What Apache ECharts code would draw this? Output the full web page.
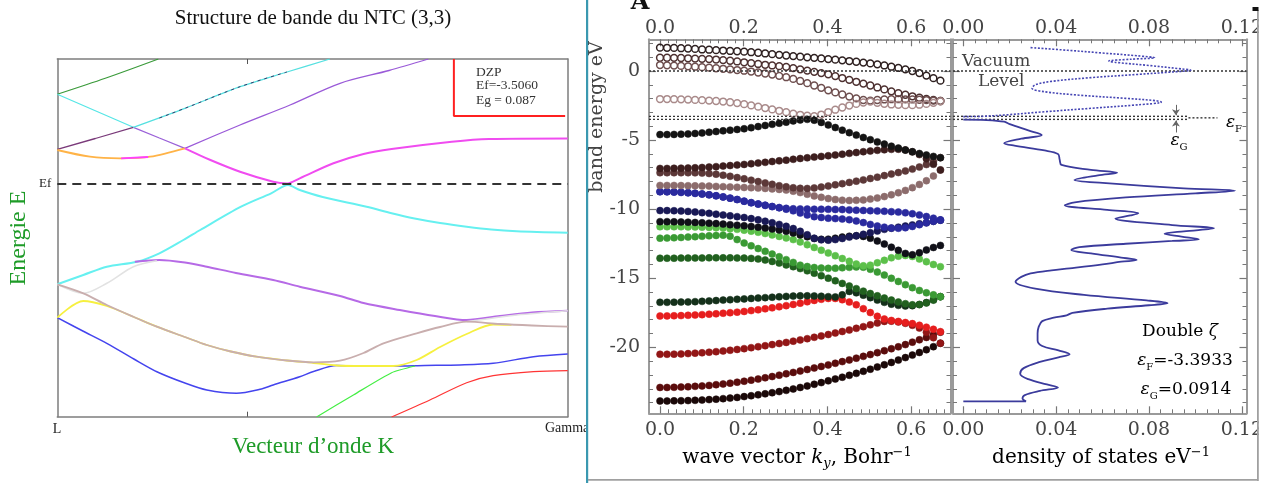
<!DOCTYPE html>
<html><head><meta charset="utf-8">
<script src="https://cdn.jsdelivr.net/npm/echarts@6/dist/echarts.min.js"></script>
<style>html,body{margin:0;padding:0;background:#fff}#c{width:1266px;height:483px}</style>
</head><body><div id="c"></div>
<script>
// ---------- LEFT PANEL (k from L=0 to Gamma=1, energy relative to Ef) ----------
const L_GREEN_TOP = [[0,8.97],[0.094,10.57],[0.198,12.5]];
const L_CYAN_A = [[0,8.97],[0.0745,7.32],[0.149,5.67]];
const L_PURPLE_A = [[0.149,5.67],[0.2,4.6],[0.25,3.57]];
const L_MAGENTA = [[0.25,3.57],[0.3,2.4],[0.358,1.23],[0.423,0.23],[0.449,0.05],[0.475,0.57],[0.541,2.07],[0.6,3.0],[0.655,3.5],[0.773,4.23],[0.846,4.5],[1,4.55]];
const L_DARKPURPLE_B = [[0,3.47],[0.0745,4.55],[0.149,5.67]];
const L_CYAN_B = [[0.149,5.67],[0.25,7.57],[0.358,9.73],[0.45,11.2],[0.534,12.5]];
const L_DARK_STREAK = [[0.2,6.6],[0.25,7.57],[0.358,9.73],[0.45,11.2]];
const L_ORANGE = [[0,3.4],[0.064,2.73],[0.123,2.57],[0.182,2.73],[0.25,3.57]];
const L_MAG_SHORT = [[0.125,2.57],[0.178,2.7]];
const L_PURPLE_C = [[0.25,3.57],[0.358,5.9],[0.456,7.9],[0.554,10.07],[0.65,11.35],[0.727,12.5]];
const L_CYAN_D = [[0,-10.03],[0.051,-9.1],[0.097,-8.27],[0.156,-7.77],[0.2,-6.93],[0.247,-5.6],[0.28,-4.6],[0.36,-2.27],[0.419,-0.93],[0.452,-0.1],[0.475,-0.6],[0.52,-1.3],[0.606,-2.27],[0.655,-2.93],[0.7,-3.45],[0.75,-3.9],[0.802,-4.27],[0.85,-4.55],[0.9,-4.72],[1,-4.87]];
const L_LAVENDER = [[0.152,-7.77],[0.2,-7.6],[0.25,-7.85],[0.293,-8.27],[0.35,-8.9],[0.423,-9.6],[0.475,-10.27],[0.554,-11.2],[0.6,-11.9],[0.671,-12.6],[0.74,-13.2],[0.802,-13.6],[0.867,-13.2],[0.93,-12.85],[1,-12.67]];
const L_LIGHTGRAY = [[0,-10.03],[0.051,-10.93],[0.097,-9.93],[0.149,-8.27],[0.195,-7.67]];
const L_LIGHTGRAY_G = [[0.802,-13.77],[0.9,-13.1],[1,-12.67]];
const L_YELLOW = [[0,-13.37],[0.051,-11.7],[0.097,-12.2],[0.15,-13.3],[0.195,-14.27],[0.25,-15.3],[0.293,-16.1],[0.34,-16.75],[0.39,-17.27],[0.45,-17.65],[0.502,-17.9],[0.547,-18.15],[0.6,-18.2],[0.658,-18.2],[0.704,-17.6],[0.75,-16.3],[0.802,-15.0],[0.854,-14.05],[0.89,-14.08]];
const L_BROWN = [[0,-10.03],[0.051,-10.93],[0.097,-12.1],[0.15,-13.3],[0.195,-14.27],[0.25,-15.3],[0.293,-16.1],[0.34,-16.75],[0.39,-17.27],[0.45,-17.65],[0.502,-17.83],[0.554,-17.67],[0.6,-16.9],[0.639,-15.93],[0.704,-14.93],[0.75,-14.3],[0.802,-13.77],[0.867,-14.0],[0.93,-14.15],[1,-14.27]];
const L_BLUE = [[0,-13.37],[0.05,-14.7],[0.097,-15.93],[0.15,-17.5],[0.195,-18.77],[0.25,-19.9],[0.293,-20.6],[0.351,-20.93],[0.4,-20.5],[0.423,-20.1],[0.475,-19.27],[0.502,-18.75],[0.547,-18.15],[0.6,-18.2],[0.658,-18.2],[0.72,-18.15],[0.789,-18.1],[0.854,-17.93],[0.933,-17.27],[1,-17.0]];
const L_GREEN_LOW = [[0.508,-23.3],[0.581,-21.07],[0.655,-18.87],[0.701,-18.2]];
const L_RED = [[0.655,-23.3],[0.73,-21.6],[0.802,-19.87],[0.854,-19.17],[0.933,-18.77],[1,-18.67]];
const L_EF = [[0,0],[1,0]];
const L_BOX = [[0.777,12.5],[0.777,6.8],[0.995,6.8]];
const L_TICKS = [0.373];

// ---------- BAND PANEL (wave vector k_y, Bohr^-1 ; energy eV) ----------
const K = [0,0.0168,0.0335,0.0503,0.067,0.0838,0.1005,0.1173,0.134,0.1508,0.1675,0.1843,0.201,0.2178,0.2345,0.2513,0.268,0.2848,0.3015,0.3183,0.335,0.3518,0.3685,0.3853,0.402,0.4188,0.4355,0.4523,0.469,0.4858,0.5025,0.5193,0.536,0.5528,0.5695,0.5863,0.603,0.6198,0.6365,0.6533,0.67];
const H1 = [1.69,1.68,1.67,1.65,1.63,1.60,1.56,1.54,1.51,1.48,1.45,1.43,1.40,1.36,1.32,1.27,1.22,1.17,1.12,1.08,1.04,0.99,0.95,0.91,0.86,0.82,0.77,0.72,0.67,0.61,0.55,0.48,0.40,0.31,0.22,0.12,0.0,-0.15,-0.33,-0.52,-0.70];
const H2 = [0.96,0.96,0.95,0.94,0.92,0.90,0.88,0.86,0.83,0.79,0.74,0.69,0.63,0.57,0.51,0.45,0.40,0.35,0.30,0.21,0.12,0.03,-0.06,-0.15,-0.24,-0.37,-0.51,-0.64,-0.78,-0.91,-1.05,-1.19,-1.33,-1.47,-1.60,-1.72,-1.83,-1.93,-2.02,-2.10,-2.17];
const H3 = [0.43,0.41,0.39,0.37,0.34,0.31,0.28,0.24,0.20,0.16,0.12,0.07,0.02,-0.04,-0.11,-0.18,-0.26,-0.35,-0.45,-0.57,-0.72,-0.88,-1.05,-1.22,-1.40,-1.55,-1.70,-1.85,-1.98,-2.10,-2.14,-2.10,-2.06,-2.04,-2.04,-2.05,-2.06,-2.08,-2.11,-2.14,-2.17];
const H4 = [-2.03,-2.03,-2.04,-2.05,-2.07,-2.09,-2.11,-2.14,-2.17,-2.21,-2.26,-2.32,-2.40,-2.49,-2.58,-2.68,-2.78,-2.88,-2.98,-3.08,-3.17,-3.24,-3.27,-3.15,-2.97,-2.80,-2.64,-2.50,-2.38,-2.28,-2.22,-2.30,-2.37,-2.42,-2.45,-2.47,-2.47,-2.44,-2.38,-2.30,-2.20];
const O1 = [-4.60,-4.60,-4.59,-4.57,-4.55,-4.52,-4.48,-4.43,-4.38,-4.33,-4.28,-4.23,-4.18,-4.10,-4.02,-3.94,-3.86,-3.78,-3.70,-3.61,-3.54,-3.50,-3.56,-3.72,-3.90,-4.09,-4.28,-4.46,-4.64,-4.81,-4.97,-5.13,-5.29,-5.44,-5.58,-5.72,-5.85,-5.97,-6.08,-6.18,-6.27];
const O2 = [-7.05,-7.05,-7.04,-7.03,-7.02,-7.00,-6.98,-6.95,-6.92,-6.88,-6.84,-6.80,-6.76,-6.71,-6.66,-6.61,-6.55,-6.50,-6.45,-6.39,-6.33,-6.28,-6.23,-6.18,-6.13,-6.08,-6.02,-5.96,-5.90,-5.84,-5.79,-5.74,-5.70,-5.67,-5.66,-5.72,-5.85,-6.05,-6.35,-6.75,-7.16];
const O3 = [-7.36,-7.36,-7.36,-7.36,-7.36,-7.37,-7.39,-7.42,-7.47,-7.54,-7.62,-7.71,-7.80,-7.90,-8.00,-8.10,-8.20,-8.30,-8.38,-8.45,-8.49,-8.50,-8.46,-8.40,-8.32,-8.24,-8.15,-8.06,-7.97,-7.88,-7.78,-7.68,-7.57,-7.46,-7.35,-7.23,-7.10,-6.95,-6.77,-6.55,-6.27];
const O4 = [-8.28,-8.28,-8.28,-8.29,-8.30,-8.31,-8.32,-8.33,-8.35,-8.37,-8.39,-8.41,-8.43,-8.45,-8.47,-8.50,-8.53,-8.57,-8.62,-8.70,-8.80,-8.92,-9.04,-9.14,-9.23,-9.30,-9.35,-9.37,-9.36,-9.33,-9.27,-9.19,-9.09,-8.96,-8.81,-8.64,-8.44,-8.21,-7.94,-7.60,-7.16];
const BL1 = [-8.73,-8.74,-8.76,-8.78,-8.81,-8.85,-8.90,-8.96,-9.03,-9.11,-9.20,-9.30,-9.42,-9.53,-9.63,-9.72,-9.81,-9.89,-9.94,-9.97,-9.98,-9.99,-10.00,-10.00,-10.01,-10.02,-10.03,-10.05,-10.07,-10.09,-10.11,-10.13,-10.15,-10.18,-10.21,-10.26,-10.33,-10.42,-10.53,-10.65,-10.78];
const BL2 = [-8.73,-8.74,-8.76,-8.78,-8.81,-8.85,-8.90,-8.96,-9.03,-9.11,-9.20,-9.30,-9.42,-9.53,-9.63,-9.72,-9.81,-9.89,-10.00,-10.12,-10.28,-10.42,-10.54,-10.60,-10.65,-10.68,-10.71,-10.76,-10.85,-10.97,-11.10,-11.22,-11.30,-11.36,-11.38,-11.34,-11.25,-11.12,-10.99,-10.88,-10.78];
const NV = [-10.10,-10.10,-10.11,-10.13,-10.16,-10.20,-10.25,-10.30,-10.36,-10.42,-10.48,-10.54,-10.60,-10.68,-10.77,-10.87,-10.98,-11.10,-11.24,-11.40,-11.60,-11.85,-12.10,-12.22,-12.24,-12.20,-12.12,-12.02,-11.92,-11.82,-11.70,-11.58,-11.46,-11.38,-11.30,-11.22,-11.14,-11.06,-10.98,-10.88,-10.80];
const BK = [-10.90,-10.90,-10.91,-10.92,-10.94,-10.96,-10.98,-11.01,-11.04,-11.08,-11.12,-11.16,-11.20,-11.25,-11.30,-11.36,-11.43,-11.50,-11.60,-11.72,-11.86,-12.00,-12.12,-12.18,-12.17,-12.10,-12.02,-11.96,-11.93,-11.97,-12.10,-12.30,-12.52,-12.75,-12.98,-13.20,-13.30,-13.15,-12.95,-12.77,-12.62];
const G1 = [-11.27,-11.27,-11.27,-11.27,-11.28,-11.29,-11.30,-11.32,-11.34,-11.37,-11.41,-11.46,-11.52,-11.59,-11.67,-11.76,-11.86,-11.97,-12.08,-12.20,-12.37,-12.57,-12.77,-12.97,-13.17,-13.37,-13.57,-13.77,-13.97,-14.10,-14.05,-13.88,-13.70,-13.52,-13.40,-13.35,-13.42,-13.60,-13.80,-14.00,-14.16];
const G2 = [-12.10,-12.09,-12.07,-12.05,-12.02,-11.99,-11.96,-11.93,-11.90,-11.88,-11.95,-12.20,-12.45,-12.65,-12.85,-13.05,-13.25,-13.44,-13.65,-13.85,-14.05,-14.15,-14.22,-14.26,-14.28,-14.27,-14.24,-14.21,-14.18,-14.20,-14.35,-14.55,-14.77,-15.00,-15.23,-15.46,-15.68,-15.88,-16.05,-16.20,-16.33];
const G3 = [-13.55,-13.55,-13.55,-13.54,-13.54,-13.53,-13.53,-13.52,-13.52,-13.52,-13.52,-13.53,-13.54,-13.56,-13.60,-13.68,-13.78,-13.90,-14.03,-14.16,-14.30,-14.46,-14.63,-14.81,-14.99,-15.18,-15.37,-15.56,-15.75,-15.93,-16.10,-16.27,-16.43,-16.58,-16.72,-16.84,-16.92,-16.90,-16.78,-16.58,-16.33];
const G4 = [-16.74,-16.74,-16.73,-16.72,-16.71,-16.69,-16.67,-16.64,-16.61,-16.58,-16.55,-16.52,-16.49,-16.46,-16.43,-16.40,-16.37,-16.34,-16.31,-16.29,-16.27,-16.27,-16.28,-16.30,-16.33,-16.35,-16.20,-15.95,-16.05,-16.22,-16.40,-16.58,-16.74,-16.87,-16.96,-17.00,-16.98,-16.90,-16.76,-16.56,-16.33];
const R1 = [-17.73,-17.72,-17.71,-17.70,-17.68,-17.66,-17.63,-17.60,-17.57,-17.53,-17.49,-17.45,-17.40,-17.34,-17.28,-17.21,-17.14,-17.06,-16.98,-16.89,-16.80,-16.70,-16.60,-16.52,-16.46,-16.46,-16.55,-16.72,-16.92,-17.20,-17.48,-17.75,-17.95,-18.05,-18.12,-18.20,-18.28,-18.40,-18.54,-18.69,-18.86];
const R2 = [-20.50,-20.50,-20.49,-20.47,-20.45,-20.42,-20.39,-20.35,-20.31,-20.26,-20.21,-20.15,-20.09,-20.02,-19.95,-19.88,-19.80,-19.72,-19.64,-19.55,-19.46,-19.37,-19.27,-19.17,-19.07,-18.96,-18.85,-18.74,-18.62,-18.50,-18.37,-18.24,-18.12,-18.10,-18.16,-18.26,-18.40,-18.60,-18.90,-19.30,-19.70];
const R3 = [-22.90,-22.90,-22.89,-22.87,-22.85,-22.82,-22.79,-22.75,-22.70,-22.65,-22.59,-22.52,-22.45,-22.37,-22.29,-22.20,-22.11,-22.01,-21.91,-21.81,-21.71,-21.60,-21.49,-21.38,-21.27,-21.15,-21.03,-20.91,-20.78,-20.65,-20.52,-20.38,-20.24,-20.10,-19.96,-19.80,-19.62,-19.45,-19.28,-19.08,-18.90];
const R4 = [-23.88,-23.88,-23.87,-23.86,-23.85,-23.83,-23.81,-23.78,-23.75,-23.71,-23.67,-23.62,-23.56,-23.50,-23.43,-23.36,-23.28,-23.20,-23.11,-23.01,-22.90,-22.79,-22.67,-22.55,-22.42,-22.29,-22.16,-22.02,-21.88,-21.73,-21.58,-21.42,-21.26,-21.09,-20.92,-20.74,-20.56,-20.37,-20.17,-19.95,-19.70];
const BAND_X_LABELS = [0,0.2,0.4,0.6];
const BAND_Y_LABELS = [-20,-15,-10,-5,0];
const VACUUM = 0;
const EF_LINES = [-3.28,-3.5];

// ---------- DOS PANEL (density eV^-1, energy eV) ----------
const DOS_OCC = [[0,-23.90],[0.027,-23.90],[0.0255,-23.70],[0.0265,-23.45],[0.033,-23.15],[0.0408,-22.90],[0.036,-22.68],[0.028,-22.30],[0.0245,-21.90],[0.026,-21.50],[0.033,-21.05],[0.041,-20.72],[0.0458,-20.50],[0.041,-20.22],[0.034,-19.90],[0.032,-19.50],[0.032,-19.00],[0.0325,-18.50],[0.034,-18.10],[0.039,-17.85],[0.0445,-17.68],[0.047,-17.50],[0.062,-17.20],[0.080,-16.95],[0.088,-16.80],[0.079,-16.60],[0.052,-16.20],[0.031,-15.75],[0.0225,-15.25],[0.025,-14.9],[0.029,-14.65],[0.038,-14.42],[0.0458,-14.28],[0.060,-14.0],[0.068,-13.8],[0.0747,-13.68],[0.068,-13.5],[0.055,-13.2],[0.0465,-12.95],[0.050,-12.75],[0.070,-12.5],[0.090,-12.3],[0.1015,-12.18],[0.094,-11.98],[0.0867,-11.78],[0.095,-11.6],[0.108,-11.38],[0.090,-11.15],[0.0655,-10.68],[0.072,-10.45],[0.0754,-10.3],[0.062,-10.05],[0.0437,-9.72],[0.048,-9.5],[0.070,-9.15],[0.100,-8.85],[0.117,-8.66],[0.095,-8.5],[0.060,-8.1],[0.0479,-7.89],[0.058,-7.55],[0.0663,-7.36],[0.055,-7.15],[0.0423,-6.8],[0.0415,-6.4],[0.0408,-6.0],[0.035,-5.75],[0.022,-5.4],[0.0176,-5.23],[0.025,-4.9],[0.0338,-4.63],[0.028,-4.3],[0.020,-3.85],[0.0176,-3.67],[0.010,-3.55],[0,-3.52]];
const DOS_EMPTY = [[0,-3.30],[0.008,-3.28],[0.018,-3.18],[0.035,-2.95],[0.055,-2.7],[0.075,-2.45],[0.0853,-2.25],[0.083,-2.15],[0.070,-1.98],[0.050,-1.75],[0.035,-1.5],[0.0296,-1.25],[0.031,-1.0],[0.038,-0.75],[0.055,-0.48],[0.075,-0.25],[0.090,-0.07],[0.098,0.06],[0.094,0.15],[0.080,0.4],[0.066,0.62],[0.0627,0.72],[0.072,0.85],[0.0825,0.96],[0.075,1.1],[0.060,1.3],[0.045,1.5],[0.0289,1.69]];
const DOS_X_LABELS = [0,0.04,0.08,0.12];

// ---------- build ----------
const ECOLOR = '#444';
const SERIF = '"DejaVu Serif", serif';
const TIMES = '"Liberation Serif", "Times New Roman", serif';
const BX = [-0.0263, 0.6941], EY = [-24.77, 2.294], DX = [-0.00444, 0.122];

const bandTicksX = []; for (let i = 0; i <= 34; i++) bandTicksX.push(+(i * 0.02).toFixed(2));
const eTicks = []; for (let e = -24; e <= 2; e++) eTicks.push(e);
const dosTicksX = []; for (let i = 0; i <= 24; i++) dosTicksX.push(+(i * 0.005).toFixed(3));

function lline(data, color, width, extra) {
  return Object.assign({type:'line', xAxisIndex:0, yAxisIndex:0, data, showSymbol:false, symbol:'none',
    smooth:0.3, lineStyle:{color, width}, silent:true, z:2}, extra || {});
}
function band(vals, color, hollow) {
  return {type:'scatter', xAxisIndex:2, yAxisIndex:2, data:K.map((k,i)=>[k, vals[i]]), symbol:'circle',
    symbolSize: hollow ? 6.8 : 7, silent:true, z:3,
    itemStyle: hollow ? {color:'rgba(255,255,255,0)', borderColor:color, borderWidth:1.5, opacity:1}
                      : {color, borderColor:color, borderWidth:0.5, opacity:1}};
}
function refLine(xi, yi, data, w) {
  return {type:'line', xAxisIndex:xi, yAxisIndex:yi, data, showSymbol:false, symbol:'none', silent:true, z:4,
    lineStyle:{color:'#333', width:w || 1.4, type:[2,2]}};
}
function frameAxis(gi, pos, range, ticks, labels, fmt, margin) {
  return {gridIndex:gi, type:'value', position:pos, min:range[0], max:range[1],
    axisLine:{show:true, onZero:false, lineStyle:{color:'#9a9a9a', width:2}},
    axisTick:{show:true, inside:true, length:4, customValues:ticks, lineStyle:{color:'#777', width:1}},
    axisLabel: labels ? {show:true, customValues:labels, formatter:fmt, margin, fontFamily:SERIF, fontSize:19, color:ECOLOR}
                      : {show:false},
    splitLine:{show:false}};
}
function majorAxis(gi, pos, range, ticks) {
  return {gridIndex:gi, type:'value', position:pos, min:range[0], max:range[1],
    axisLine:{show:false, onZero:false},
    axisTick:{show:true, inside:true, length:7, customValues:ticks, lineStyle:{color:'#777', width:1.2}},
    axisLabel:{show:false}, splitLine:{show:false}};
}
const leftAxisBase = (pos, range, ticks) => ({gridIndex:0, type:'value', position:pos, min:range[0], max:range[1],
  axisLine:{show:true, onZero:false, lineStyle:{color:'#7d7d7d', width:1.5}},
  axisTick: ticks ? {show:true, inside:true, length:5, customValues:ticks, lineStyle:{color:'#555'}} : {show:false},
  axisLabel:{show:false}, splitLine:{show:false}});

const f1 = v => v.toFixed(1), f2 = v => v.toFixed(2), f0 = v => String(v);

const series = [
  lline(L_GREEN_TOP, '#3a9a3a', 1.2),
  lline(L_CYAN_A, '#55e6e6', 1.2, {smooth:0}),
  lline(L_PURPLE_A, '#9a60d8', 1.3, {smooth:0}),
  lline(L_DARKPURPLE_B, '#7a3a7a', 1.3, {smooth:0}),
  lline(L_CYAN_B, '#55e0e0', 1.3),
  lline(L_DARK_STREAK, '#40406a', 1, {lineStyle:{color:'#3a3a6a', width:1, type:[3,4]}}),
  lline(L_PURPLE_C, '#9a5ad8', 1.3),
  lline(L_ORANGE, '#ffb347', 1.8),
  lline(L_MAG_SHORT, '#ff40ff', 1.8, {smooth:0}),
  lline(L_MAGENTA, '#f04cf0', 2),
  lline(L_CYAN_D, '#66f0f0', 2),
  lline(L_LAVENDER, '#b66ae6', 2),
  lline(L_LIGHTGRAY, '#e2e2e2', 1.6),
  lline(L_LIGHTGRAY_G, '#e2e2e2', 1.6),
  lline(L_BLUE, '#4444ee', 1.5),
  lline(L_YELLOW, '#f6f040', 1.8),
  lline(L_BROWN, '#c9aeae', 1.8),
  lline(L_GREEN_LOW, '#44ee44', 1.2, {smooth:0.2}),
  lline(L_RED, '#ff3434', 1.2),
  lline(L_EF, '#333', 2, {smooth:0, z:5, lineStyle:{color:'#333', width:2, type:[9,6]}}),
  lline(L_BOX, '#ff2020', 2, {smooth:0, z:5}),

  refLine(2, 2, [[BX[0], VACUUM], [BX[1], VACUUM]]),
  refLine(2, 2, [[BX[0], EF_LINES[0]], [BX[1], EF_LINES[0]]]),
  refLine(2, 2, [[BX[0], EF_LINES[1]], [BX[1], EF_LINES[1]]]),
  band(H1, '#2e2020', true), band(H2, '#4d3030', true), band(H3, '#6e4e4e', true), band(H4, '#a98a8a', true),
  band(R4, '#1a0808'), band(R3, '#5a0c0c'), band(R2, '#921616'), band(R1, '#e61e1e'),
  band(G4, '#14301a'), band(G3, '#21601f'), band(G2, '#3a9a34'), band(G1, '#5cc04a'),
  band(BK, '#101018'), band(NV, '#191955'), band(BL2, '#2a2a9e'), band(BL1, '#2a2a9e'),
  band(O4, '#8c6c6c'), band(O3, '#5c3838'), band(O2, '#3d1e1e'), band(O1, '#141414'),

  refLine(4, 4, [[DX[0], VACUUM], [DX[1], VACUUM]]),
  refLine(4, 4, [[DX[0], EF_LINES[0]], [0.097, EF_LINES[0]]]),
  refLine(4, 4, [[DX[0], EF_LINES[1]], [0.097, EF_LINES[1]]]),
  refLine(4, 4, [[0.097, -3.39], [0.1095, -3.39]]),
  {type:'line', xAxisIndex:4, yAxisIndex:4, data:DOS_EMPTY, showSymbol:false, symbol:'none', smooth:0.35, silent:true, z:5,
    lineStyle:{color:'#4646b4', width:1.6, type:[2,1.6]}},
  {type:'line', xAxisIndex:4, yAxisIndex:4, data:DOS_OCC, showSymbol:false, symbol:'none', smooth:0.35, silent:true, z:5,
    lineStyle:{color:'#3b3b9c', width:1.8},
    markLine:{silent:true, symbol:['none','arrow'], symbolSize:6, label:{show:false},
      lineStyle:{color:'#666', width:1, type:'solid'},
      data:[[{coord:[0.0916,-2.45]},{coord:[0.0916,-3.2]}],[{coord:[0.0916,-4.45]},{coord:[0.0916,-3.58]}]]}}
];

const rich = {
  n:{fontFamily:SERIF, fontSize:17, color:ECOLOR, lineHeight:22},
  t:{fontFamily:SERIF, fontSize:20, color:ECOLOR, lineHeight:24},
  i:{fontFamily:SERIF, fontStyle:'italic', fontSize:17, color:ECOLOR, lineHeight:22},
  ti:{fontFamily:SERIF, fontStyle:'italic', fontSize:20, color:ECOLOR, lineHeight:24},
  sub:{fontFamily:SERIF, fontSize:10, color:ECOLOR, lineHeight:10, verticalAlign:'bottom'},
  subi:{fontFamily:SERIF, fontStyle:'italic', fontSize:13, color:ECOLOR, lineHeight:12, verticalAlign:'bottom'},
  sup:{fontFamily:SERIF, fontSize:13, color:ECOLOR, lineHeight:12, verticalAlign:'top'}
};
function txt(x, y, text, font, fill, align, extra) {
  return Object.assign({type:'text', x, y, silent:true, z:50,
    style:{text, font, fill, textAlign:align || 'left', textVerticalAlign:'middle'}}, extra || {});
}
function rtxt(x, y, text, align) {
  return {type:'text', x, y, silent:true, z:50, style:{text, rich, textAlign:align || 'center', textVerticalAlign:'middle'}};
}

const graphic = [
  txt(313, 18, 'Structure de bande du NTC (3,3)', '21px ' + TIMES, '#111', 'center'),
  txt(19, 238, 'Energie E', '24px ' + TIMES, '#1e9b28', 'center', {rotation: Math.PI / 2}),
  txt(313, 447, 'Vecteur d\u2019onde K', '23px ' + TIMES, '#1e9b28', 'center'),
  txt(57, 429, 'L', '14px ' + TIMES, '#222', 'center'),
  txt(545, 428, 'Gamma', '14px ' + TIMES, '#222', 'left'),
  txt(39, 184, 'Ef', '13px ' + TIMES, '#222', 'left'),
  txt(476, 72, 'DZP', '13.5px ' + TIMES, '#333', 'left'),
  txt(476, 85, 'Ef=-3.5060', '13.5px ' + TIMES, '#333', 'left'),
  txt(476, 100, 'Eg = 0.087', '13.5px ' + TIMES, '#333', 'left'),
  {type:'rect', shape:{x:588, y:418, width:12, height:20}, style:{fill:'#fff'}, silent:true, z:59},
  {type:'rect', shape:{x:586, y:0, width:2.2, height:483}, style:{fill:'#3a98b0'}, silent:true, z:60},
  {type:'rect', shape:{x:588, y:479, width:670, height:1.8}, style:{fill:'#a0a0a0'}, silent:true, z:60},
  {type:'rect', shape:{x:1258.6, y:0, width:8, height:483}, style:{fill:'#fff'}, silent:true, z:60},
  {type:'rect', shape:{x:1257, y:10, width:1.8, height:471}, style:{fill:'#a0a0a0'}, silent:true, z:61},
  {type:'rect', shape:{x:1252.5, y:7, width:6, height:4}, style:{fill:'#111'}, silent:true, z:61},
  txt(640, 3, 'A', 'bold 24px ' + SERIF, '#111', 'center'),
  txt(597, 117, 'band energy eV', '19px ' + SERIF, ECOLOR, 'center', {rotation: Math.PI / 2}),
  rtxt(797, 458, '{t|wave vector }{ti|k}{subi|y}{t|, Bohr}{sup|\u22121}'),
  rtxt(1101, 458, '{t|density of states eV}{sup|\u22121}'),
  txt(962, 62, 'Vacuum', '17px ' + SERIF, ECOLOR, 'left'),
  txt(978, 82, 'Level', '17px ' + SERIF, ECOLOR, 'left'),
  rtxt(1234, 123, '{i|\u03b5}{sub|F}', 'center'),
  rtxt(1179, 141, '{i|\u03b5}{sub|G}', 'center'),
  rtxt(1180, 332, '{n|Double }{i|\u03b6}'),
  rtxt(1185, 361, '{i|\u03b5}{sub|F}{n|=-3.3933}'),
  rtxt(1186, 390, '{i|\u03b5}{sub|G}{n|=0.0914}')
];

const option = {
  animation:false,
  backgroundColor:'#fff',
  grid:[
    {left:57.3, top:59, width:510.4, height:357.7},
    {left:649, top:39.3, width:301.5, height:374},
    {left:953, top:39.3, width:298.7, height:374}
  ],
  xAxis:[
    leftAxisBase('bottom', [0,1], L_TICKS),
    leftAxisBase('top', [0,1], L_TICKS),
    frameAxis(1, 'bottom', BX, bandTicksX, BAND_X_LABELS, f1, 7),
    frameAxis(1, 'top', BX, bandTicksX, BAND_X_LABELS, f1, 2),
    frameAxis(2, 'bottom', DX, dosTicksX, DOS_X_LABELS, f2, 7),
    frameAxis(2, 'top', DX, dosTicksX, DOS_X_LABELS, f2, 2),
    majorAxis(1, 'bottom', BX, BAND_X_LABELS),
    majorAxis(1, 'top', BX, BAND_X_LABELS),
    majorAxis(2, 'bottom', DX, DOS_X_LABELS),
    majorAxis(2, 'top', DX, DOS_X_LABELS)
  ],
  yAxis:[
    leftAxisBase('left', [-23.27,12.5], null),
    leftAxisBase('right', [-23.27,12.5], null),
    frameAxis(1, 'left', EY, eTicks, BAND_Y_LABELS, f0, 9),
    frameAxis(1, 'right', EY, eTicks, null),
    frameAxis(2, 'left', EY, eTicks, null),
    frameAxis(2, 'right', EY, eTicks, null),
    majorAxis(1, 'left', EY, BAND_Y_LABELS),
    majorAxis(1, 'right', EY, BAND_Y_LABELS),
    majorAxis(2, 'left', EY, BAND_Y_LABELS),
    majorAxis(2, 'right', EY, BAND_Y_LABELS)
  ],
  series,
  graphic
};
const chart = echarts.init(document.getElementById('c'), null, {renderer:'canvas'});
chart.setOption(option);
</script></body></html>
